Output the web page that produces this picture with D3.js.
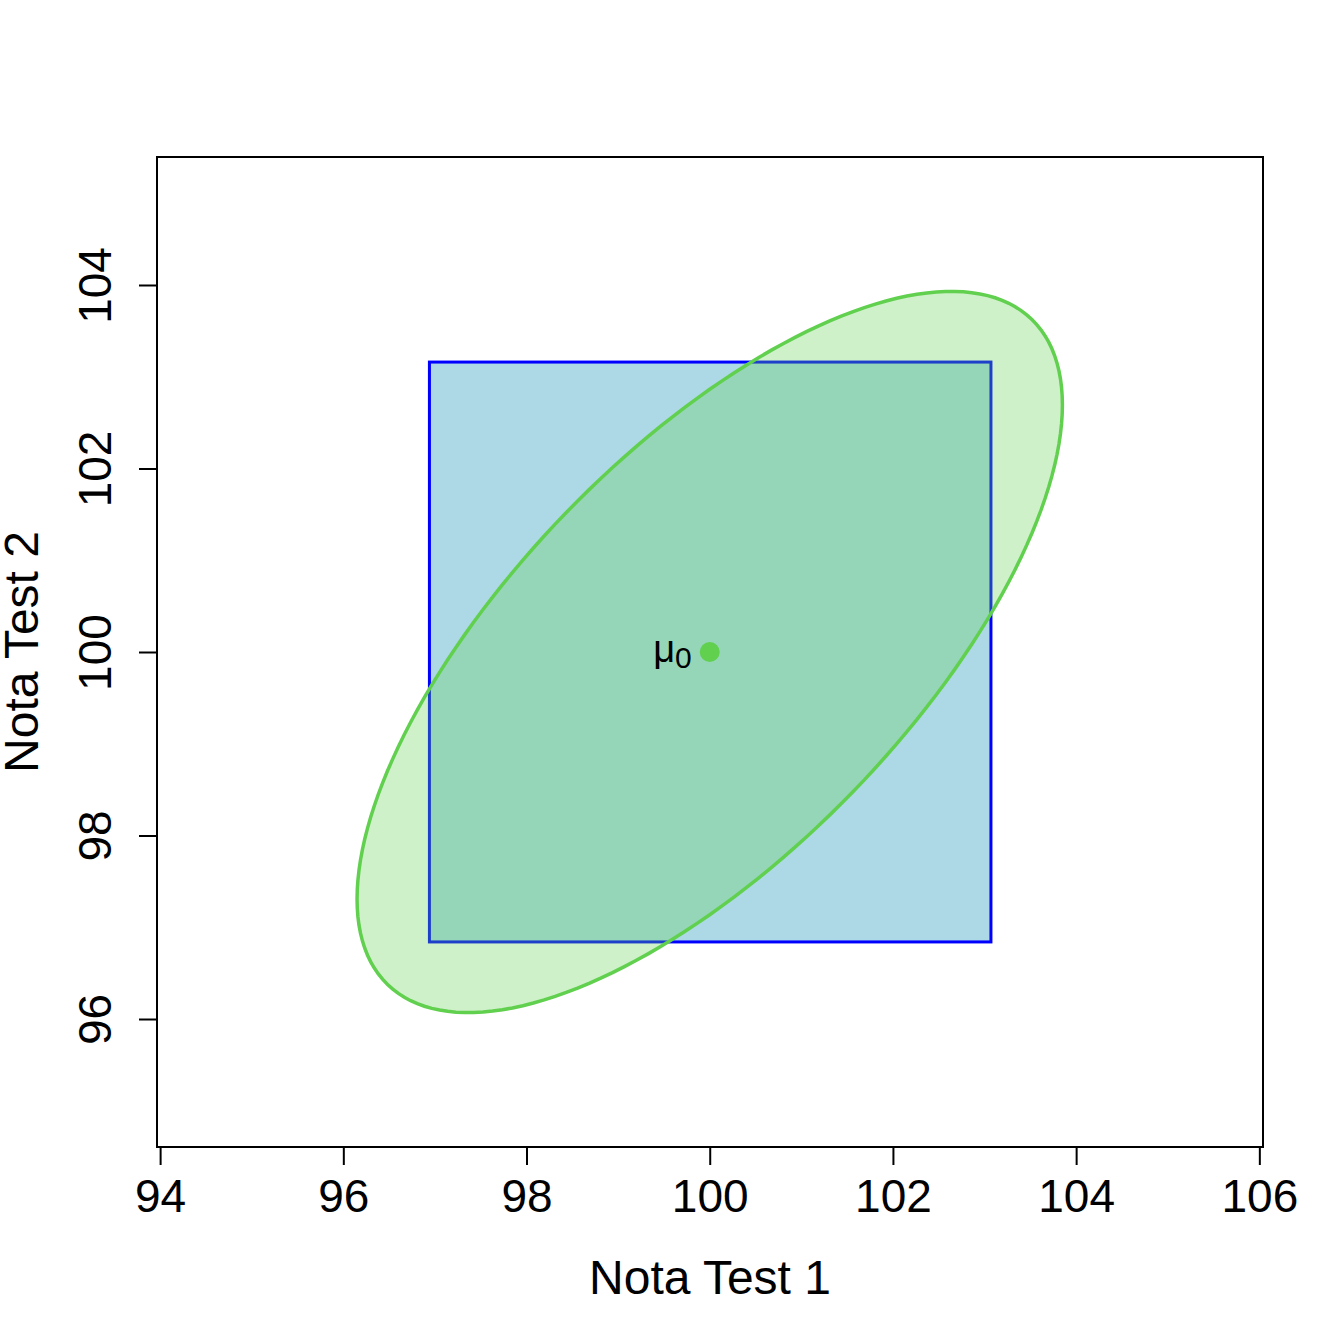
<!DOCTYPE html><html><head><script src="https://d3js.org/d3.v7.min.js"></script>
<style>body{margin:0;background:#fff}</style></head><body><svg id="c" width="1344" height="1344"></svg>
<script>
const xTicks=[94,96,98,100,102,104,106];
const yTicks=[96,98,100,102,104];
const xDomain=[93.966,106.04];
const yDomain=[94.605,105.395];
const rectBounds={x0:96.94,x1:103.07,y0:96.84,y1:103.16};
const center=[100,100];
const ellipseA=3.85, ellipseB=3.93, ellipseCosDelta=0.685;
const xLabel="Nota Test 1", yLabel="Nota Test 2";
const svg=d3.select("#c");
const x=d3.scaleLinear().domain(xDomain).range([157,1263]);
const y=d3.scaleLinear().domain(yDomain).range([1147,157]);
const font="Arial, 'Liberation Sans', sans-serif";
svg.append("rect").attr("x",x(rectBounds.x0)).attr("y",y(rectBounds.y1))
 .attr("width",x(rectBounds.x1)-x(rectBounds.x0)).attr("height",y(rectBounds.y0)-y(rectBounds.y1))
 .attr("fill","#ADD8E6").attr("stroke","#0000FF").attr("stroke-width",3);
const d=Math.acos(ellipseCosDelta);
const pts=d3.range(0,361,2).map(t=>{const r=t*Math.PI/180;return [center[0]+ellipseA*Math.cos(r),center[1]+ellipseB*Math.cos(r-d)];});
svg.append("path").attr("d",d3.line().x(p=>x(p[0])).y(p=>y(p[1])).curve(d3.curveLinearClosed)(pts))
 .attr("fill","rgba(97,208,79,0.3)").attr("stroke","#61D04F").attr("stroke-width",3.5);
svg.append("circle").attr("cx",x(center[0])).attr("cy",y(center[1])).attr("r",10).attr("fill","#61D04F");
const lab=svg.append("text").attr("x",x(center[0])-18).attr("y",y(center[1])+10).attr("text-anchor","end")
 .attr("font-family",font).attr("font-size",38);
lab.append("tspan").text("μ");
lab.append("tspan").attr("font-size",30).attr("dy",6).text("0");
svg.append("rect").attr("x",157).attr("y",157).attr("width",1106).attr("height",990).attr("fill","none").attr("stroke","#000").attr("stroke-width",2);
const xa=svg.append("g").attr("transform","translate(0,1147)").call(d3.axisBottom(x).tickValues(xTicks).tickSize(18).tickPadding(14));
xa.select(".domain").attr("d",`M${x(94)},0H${x(106)}`).attr("stroke-width",2);
xa.selectAll("line").attr("stroke-width",2);
xa.selectAll("text").attr("font-size",46).attr("font-family",font);
const ya=svg.append("g").attr("transform","translate(157,0)").call(d3.axisLeft(y).tickValues(yTicks).tickSize(18));
ya.select(".domain").attr("d",`M0,${y(96)}V${y(104)}`).attr("stroke-width",2);
ya.selectAll("line").attr("stroke-width",2);
ya.selectAll("text").attr("font-size",46).attr("font-family",font).attr("text-anchor","middle")
 .attr("x",0).attr("y",0).attr("dy",null).attr("transform","translate(-46,0) rotate(-90)");
svg.append("text").attr("x",710).attr("y",1294).attr("text-anchor","middle").attr("font-family",font).attr("font-size",48).text(xLabel);
svg.append("text").attr("transform","translate(38,652) rotate(-90)").attr("text-anchor","middle").attr("font-family",font).attr("font-size",48).text(yLabel);
</script></body></html>
